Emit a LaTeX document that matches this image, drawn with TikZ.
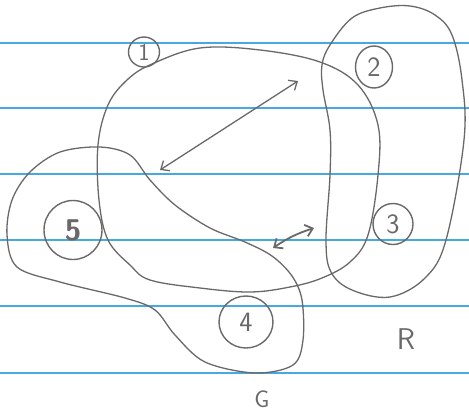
\documentclass[tikz,border=0pt]{standalone}
\usetikzlibrary{shapes.geometric,arrows.meta}
\definecolor{ruled}{RGB}{70,170,225}
\definecolor{pencil}{RGB}{105,105,105}
\begin{document}
\begin{tikzpicture}[x=1pt,y=-1pt,
  blob/.style={draw=pencil,line width=1.3pt},
  lbl/.style={draw=pencil,line width=1.4pt,ellipse,inner sep=0pt,text=pencil,font=\sffamily},
  setname/.style={text=pencil,font=\sffamily\fontsize{30}{30}\selectfont},
  arr/.style={draw=pencil,line width=1.3pt,{Straight Barb[length=7pt,width=12pt]}-{Straight Barb[length=7pt,width=12pt]}}]
\useasboundingbox (0,0) rectangle (469,416);
\fill[white] (0,0) rectangle (469,416);
% ruled lines
\foreach \yy in {43,108,174,240,306,373}
  \draw[ruled,line width=2.2pt] (0,\yy) -- (469,\yy);
% big blob (1)
\draw[blob] plot[smooth cycle,tension=0.6] coordinates {
 (152,64) (200,48) (260,50) (320,62) (358,85) (378,125) (378,175) (368,235)
 (350,262) (322,278) (290,287) (250,292) (200,288) (150,280) (130,265) (108,240)
 (99,200) (98,145) (108,105) (127,80)};
% R blob
\draw[blob] plot[smooth cycle,tension=0.6] coordinates {
 (330,45) (352,18) (380,8) (410,6) (435,15) (452,35) (462,80) (464,140)
 (446,240) (425,278) (390,297) (352,290) (331,272) (326,240) (330,175) (330,130)
 (323,90) (322,65)};
% G blob
\draw[blob] plot[smooth cycle,tension=0.55] coordinates {
 (30,172) (60,152) (100,147) (130,155) (150,180) (175,205) (210,228) (245,242)
 (272,256) (292,276) (302,300) (303,340) (293,365) (255,373) (205,362) (175,335)
 (155,310) (125,298) (60,282) (17,267) (7,235) (12,200)};
% circled labels
\node[lbl,minimum width=31pt,minimum height=30pt,font=\sffamily\fontsize{24}{24}\selectfont] (n1) at (144,52) {1};
\node[lbl,minimum width=37pt,minimum height=42pt,font=\sffamily\fontsize{28}{28}\selectfont] (n2) at (374,67) {2};
\node[lbl,minimum width=40pt,minimum height=41pt,font=\sffamily\fontsize{28}{28}\selectfont] (n3) at (393,224) {3};
\node[lbl,minimum width=58pt,minimum height=59pt,font=\sffamily\bfseries\fontsize{30}{30}\selectfont] (n5) at (73,230) {5};
\node[lbl,minimum width=54pt,minimum height=52pt,font=\sffamily\fontsize{28}{28}\selectfont] (n4) at (246,322) {4};
% set names
\node[setname] (R) at (406,339) {R};
\node[setname,font=\sffamily\fontsize{24}{24}\selectfont] (G) at (262,399) {G};
% arrows
\coordinate (a1) at (160,170);
\coordinate (a2) at (298,81);
\coordinate (b1) at (273,248);
\coordinate (b2) at (314,228);
\draw[arr] (a1) -- (a2);
\draw[arr,line width=1.8pt] (b1) to[bend left=8] (b2);
\end{tikzpicture}
\end{document}
